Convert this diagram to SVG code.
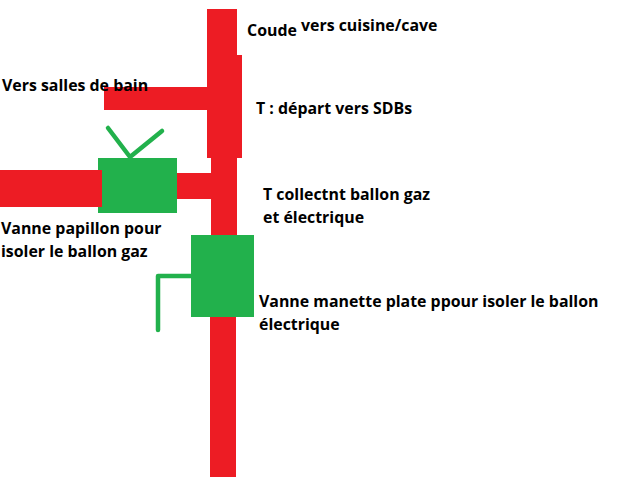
<svg xmlns="http://www.w3.org/2000/svg" width="643" height="496" viewBox="0 0 643 496">
<style>
.p{fill:#ed1c24}
.v{fill:#22b14c}
.h{fill:none;stroke:#22b14c;stroke-width:4.5;stroke-linecap:round;stroke-linejoin:round}
text{font-family:"Open Sans","Noto Sans",sans-serif;font-weight:700;font-size:15.9px;fill:#000}
</style>
<rect width="643" height="496" fill="#fff"/>
<g id="connectors">
<rect class="p" x="207" y="9" width="30" height="46"/>
<rect class="p" x="207" y="55" width="35" height="103"/>
<rect class="p" x="104" y="87" width="103" height="23"/>
<rect class="p" x="211" y="158" width="26" height="77"/>
<rect class="p" x="177" y="173" width="34" height="26"/>
<rect class="p" x="210" y="316" width="26" height="161"/>
</g>
<g id="valve-gaz">
<path class="h" d="M108 128L130 157L162 131"/>
<rect class="v" x="98" y="158" width="79" height="55"/>
<rect class="p" x="0" y="170" width="102" height="37"/>
</g>
<g id="valve-elec">
<path class="h" d="M158 330V276H191"/>
<rect class="v" x="191" y="235" width="63" height="82"/>
</g>
<g id="labels">
<text x="247" y="36">Coude</text>
<text x="301" y="31">vers cuisine/cave</text>
<text x="2" y="91">Vers salles de bain</text>
<text x="256" y="114">T : départ vers SDBs</text>
<text x="263" y="200">T collectnt ballon gaz</text>
<text x="263" y="223">et électrique</text>
<text x="1" y="234">Vanne papillon pour</text>
<text x="1" y="257">isoler le ballon gaz</text>
<text x="259" y="307">Vanne manette plate ppour isoler le ballon</text>
<text x="259" y="330">électrique</text>
</g>
</svg>
